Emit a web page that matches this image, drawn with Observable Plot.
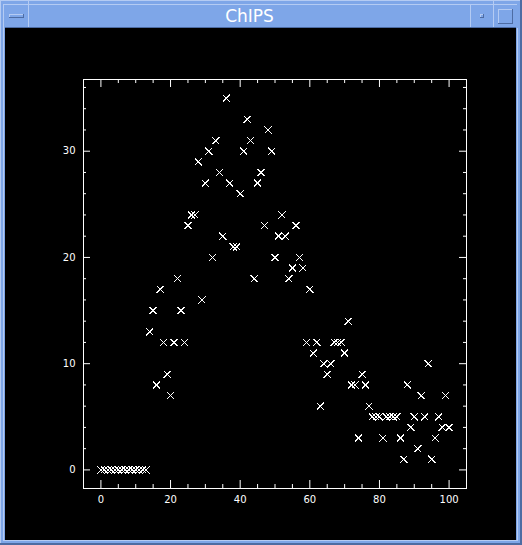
<!DOCTYPE html>
<html><head><meta charset="utf-8">
<script src="https://cdn.jsdelivr.net/npm/d3@7"></script>
<script src="https://cdn.jsdelivr.net/npm/@observablehq/plot@0.6"></script>
<style>
html,body{margin:0;padding:0;background:#7ea6e8;}
#win{position:relative;width:522px;height:545px;background:#7ea6e8;overflow:hidden;font-family:"DejaVu Sans",sans-serif;}
.abs{position:absolute;}
.lt{background:#b4cbf3;}
.dk{background:#4d6ca3;}
#title{position:absolute;left:29px;width:441px;top:5px;height:22px;line-height:22px;text-align:center;color:#fff;font-size:17px;font-family:"DejaVu Sans",sans-serif;}
#chart{position:absolute;left:5px;top:28px;width:511px;height:512px;background:#000;}
</style></head><body>
<div id="win">
  <!-- outer bevel -->
  <div class="abs lt" style="left:0;top:0;width:522px;height:1px"></div>
  <div class="abs lt" style="left:0;top:0;width:1px;height:545px"></div>
  <div class="abs lt" style="left:3px;top:4px;width:1px;height:537px"></div>
  <div class="abs lt" style="left:4px;top:4px;width:513px;height:1px"></div>
  <div class="abs dk" style="left:0;top:543px;width:522px;height:2px"></div>
  <div class="abs dk" style="left:520px;top:0;width:2px;height:545px"></div>
  <div class="abs lt" style="left:4px;top:540px;width:514px;height:1px"></div>
  <div class="abs lt" style="left:517px;top:28px;width:1px;height:513px"></div>
  <!-- title bar -->
  <div class="abs dk" style="left:5px;top:27px;width:511px;height:1px"></div>
  <div class="abs lt" style="left:28px;top:5px;width:1px;height:22px"></div>
  <div class="abs lt" style="left:470px;top:5px;width:1px;height:22px"></div>
  <div class="abs lt" style="left:493px;top:0px;width:1px;height:27px"></div>
  <div class="abs lt" style="left:28px;top:0px;width:1px;height:5px"></div>
  <!-- left button bar -->
  <div class="abs lt" style="left:9px;top:14px;width:15px;height:1px"></div>
  <div class="abs lt" style="left:9px;top:14px;width:1px;height:4px"></div>
  <div class="abs dk" style="left:9px;top:17px;width:15px;height:1px"></div>
  <div class="abs dk" style="left:23px;top:14px;width:1px;height:4px"></div>
  <!-- middle small square -->
  <div class="abs lt" style="left:480px;top:14px;width:4px;height:1px"></div>
  <div class="abs lt" style="left:480px;top:14px;width:1px;height:4px"></div>
  <div class="abs dk" style="left:480px;top:17px;width:4px;height:1px"></div>
  <div class="abs dk" style="left:483px;top:14px;width:1px;height:4px"></div>
  <!-- right big square -->
  <div class="abs lt" style="left:498px;top:9px;width:15px;height:1px"></div>
  <div class="abs lt" style="left:498px;top:9px;width:1px;height:15px"></div>
  <div class="abs dk" style="left:498px;top:23px;width:15px;height:1px"></div>
  <div class="abs dk" style="left:512px;top:9px;width:1px;height:15px"></div>
  <div id="title">ChIPS</div>
  <div id="chart"></div>
</div>
<script>
// data
const xValues = [0,1,2,3,4,5,6,7,8,9,10,11,12,13,14,15,16,17,18,19,20,21,22,23,24,25,26,27,28,29,30,31,32,33,34,35,36,37,38,39,40,41,42,43,44,45,46,47,48,49,50,51,52,53,54,55,56,57,58,59,60,61,62,63,64,65,66,67,68,69,70,71,72,73,74,75,76,77,78,79,80,81,82,83,84,85,86,87,88,89,90,91,92,93,94,95,96,97,98,99,100];
const yValues = [0,0,0,0,0,0,0,0,0,0,0,0,0,0,13,15,8,17,12,9,7,12,18,15,12,23,24,24,29,16,27,30,20,31,28,22,35,27,21,21,26,30,33,31,18,27,28,23,32,30,20,22,24,22,18,19,23,20,19,12,17,11,12,6,10,9,10,12,12,12,11,14,8,8,3,9,8,6,5,5,5,3,5,5,5,5,3,1,8,4,5,2,7,5,10,1,3,5,4,7,4];
const xDomain = [-5, 105];
const yDomain = [-1.75, 36.75];
const xTickLabels = [0,20,40,60,80,100];
const yTickLabels = [0,10,20,30];
const xMinorTicks = [5,10,15,25,30,35,45,50,55,65,70,75,85,90,95];
const yMinorTicks = [2,4,6,8,12,14,16,18,22,24,26,28,32,34,36];

const points = xValues.map((x, i) => ({x, y: yValues[i]}));

const W = 511, H = 512, mL = 78, mR = 50, mT = 51, mB = 52;
const innerW = W - mL - mR, innerH = H - mT - mB;
const xMajLen = 8, xMinLen = 4, yMajLen = 7, yMinLen = 3;

const chart = Plot.plot({
  width: W, height: H,
  marginLeft: mL, marginRight: mR, marginTop: mT, marginBottom: mB,
  style: {background: "#000", color: "#fff", fontFamily: "DejaVu Sans", fontSize: "10px"},
  x: {domain: xDomain, axis: null},
  y: {domain: yDomain, axis: null},
  marks: [
    Plot.frame({stroke: "#fff"}),
    // x ticks bottom/top (inward)
    Plot.ruleX(xTickLabels, {x: d => d, insetTop: innerH - xMajLen, stroke: "#fff"}),
    Plot.ruleX(xMinorTicks, {x: d => d, insetTop: innerH - xMinLen, stroke: "#fff"}),
    Plot.ruleX(xTickLabels, {x: d => d, insetBottom: innerH - xMajLen, stroke: "#fff"}),
    Plot.ruleX(xMinorTicks, {x: d => d, insetBottom: innerH - xMinLen, stroke: "#fff"}),
    // y ticks left/right (inward)
    Plot.ruleY(yTickLabels, {y: d => d, insetRight: innerW - yMajLen, stroke: "#fff"}),
    Plot.ruleY(yMinorTicks, {y: d => d, insetRight: innerW - yMinLen, stroke: "#fff"}),
    Plot.ruleY(yTickLabels, {y: d => d, insetLeft: innerW - yMajLen, stroke: "#fff"}),
    Plot.ruleY(yMinorTicks, {y: d => d, insetLeft: innerW - yMinLen, stroke: "#fff"}),
    // labels
    Plot.text(xTickLabels, {x: d => d, text: d => String(d), frameAnchor: "bottom", lineAnchor: "top", dy: 7, fill: "#fff"}),
    Plot.text(yTickLabels, {y: d => d, text: d => String(d), frameAnchor: "left", textAnchor: "end", dx: -8, fill: "#fff"}),
    // data
    Plot.dot(points, {x: "x", y: "y", symbol: "times", r: 3.3, stroke: "#fff", strokeWidth: 1, shapeRendering: "crispEdges"})
  ]
});
document.getElementById("chart").appendChild(chart);
</script>
</body></html>
